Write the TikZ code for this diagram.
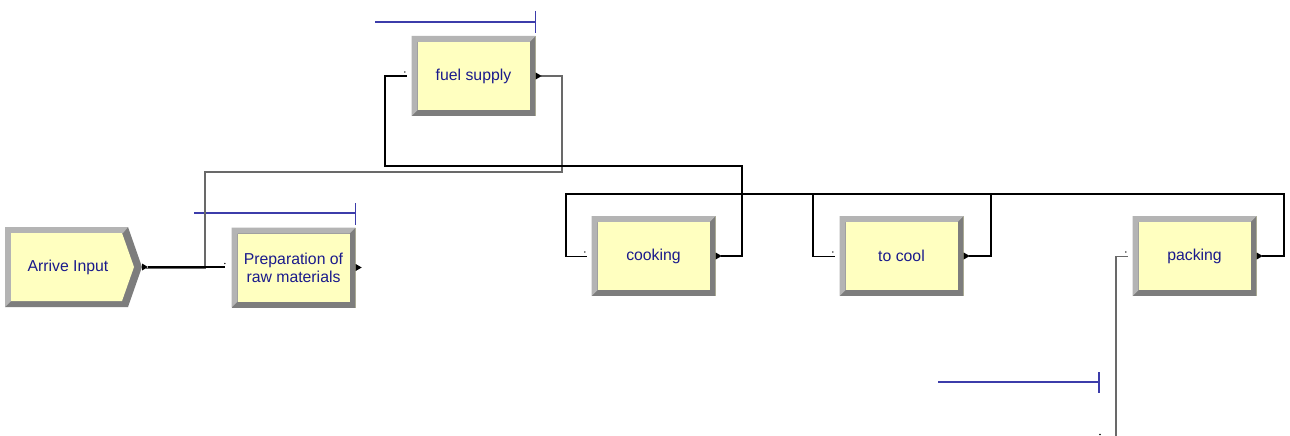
\documentclass[tikz,border=0pt]{standalone}
\usepackage{fontspec}
\setmainfont{Liberation Sans}
\definecolor{bevlight}{RGB}{180,180,180}
\definecolor{bevdark}{RGB}{125,125,125}
\definecolor{boxyellow}{RGB}{255,255,192}
\definecolor{txtblue}{RGB}{26,26,140}
\definecolor{qblue}{RGB}{60,60,170}
\definecolor{conngrey}{RGB}{105,105,105}
\tikzset{
  procbox/.style={rectangle, minimum width=124pt, minimum height=80pt, inner sep=0pt,
    fill=boxyellow, text=txtblue, font=\fontsize{15.8}{18}\selectfont, align=center,
    path picture={
      \fill[bevdark] (path picture bounding box.south west) rectangle (path picture bounding box.north east);
      \fill[bevlight] (path picture bounding box.south west) -- ([shift={(6pt,6pt)}]path picture bounding box.south west)
        |- ([shift={(-6pt,-6pt)}]path picture bounding box.north east) -- (path picture bounding box.north east)
        -- (path picture bounding box.north west) -- cycle;
      \fill[boxyellow] ([shift={(6pt,6pt)}]path picture bounding box.south west) rectangle ([shift={(-6pt,-6pt)}]path picture bounding box.north east);
    }},
  lbl/.style={text=txtblue, font=\fontsize{15.8}{18}\selectfont, inner sep=0pt},
  conn/.style={draw=black, line width=1.3pt},
  conng/.style={draw=conngrey, line width=1.5pt},
  queue/.style={draw=qblue, line width=1.4pt},
  exitmark/.style={fill=black},
  indot/.style={fill=black}
}
\begin{document}
\begin{tikzpicture}[x=1pt,y=-1pt]
\useasboundingbox (0,0) rectangle (1290,436);
\fill[white] (0,0) rectangle (1290,436);

% Arrive Input (entry shape)
\fill[bevdark] (5,227) -- (128,227) -- (142,267) -- (128,307) -- (5,307) -- cycle;
\fill[bevlight] (5,227) -- (128,227) -- (123,233) -- (11,233) -- (11,301) -- (5,307) -- cycle;
\fill[boxyellow] (11,233) -- (122,233) -- (134,267) -- (122,301) -- (11,301) -- cycle;
\node[lbl] (arrive) at (68,267) {Arrive Input};
\coordinate (aout) at (148,267);
\coordinate (aoutg) at (146,268.5);

% process boxes
\node[procbox] (prep) at (293.5,267.5) {Preparation of\\raw materials};
\node[procbox] (fuel) at (473.5,76) {fuel supply};
\node[procbox] (cook) at (653.5,256) {cooking};
\node[procbox] (cool) at (901.5,256) {to cool};
\node[procbox] (pack) at (1194.5,256) {packing};

% queue symbols
\draw[queue] (194,213) -- (prep.north east |- 0,213);
\draw[queue] (prep.north east |- 0,203) -- (prep.north east |- 0,225);
\draw[queue] (375,22) -- (fuel.north east |- 0,22);
\draw[queue] (fuel.north east |- 0,11) -- (fuel.north east |- 0,33);
\draw[queue] (938,382) -- (1099,382);
\draw[queue] (1099,372) -- (1099,393);

% connectors
\draw[conng] ([xshift=5pt]fuel.east) -| (562,172) -| (205,268.5) -- (aoutg);
\draw[conn] (aout) -- ([xshift=-6pt]prep.west |- aout);
\draw[conn] ([xshift=5pt]cook.east) -| (742,166) -| (385,76) -- ([xshift=-4pt]fuel.west);
\draw[conn] ([xshift=5pt]cool.east) -| (991,194) -| (566,256.5) -- ([xshift=-4pt]cook.west |- 0,256.5);
\draw[conn] ([xshift=5pt]pack.east) -| (1284,194) -| (813,256.5) -- ([xshift=-4pt]cool.west |- 0,256.5);
\coordinate (packsrc) at (1116,436);
\draw[conng] (packsrc) |- ([xshift=-4pt]pack.west |- 0,256.5);

% exit marks
\foreach \n in {prep,fuel,cook,cool,pack}{
  \fill[exitmark] (\n.east) ++(0,-3.5) -- ++(6,3.5) -- ++(-6,3.5) -- cycle;
}
\fill[exitmark] (142,263.5) -- (148,267) -- (142,270.5) -- cycle;

% entry dots
\foreach \n in {prep,fuel,cook,cool,pack}{
  \fill[indot] (\n.west) ++(-6.5,-4) circle (0.8);
}
\fill[indot] (1100,434.5) circle (0.9);
\end{tikzpicture}
\end{document}
